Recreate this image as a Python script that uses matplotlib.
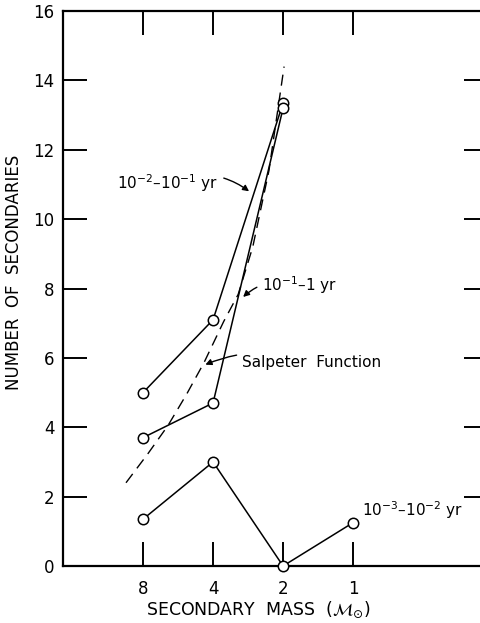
import matplotlib
matplotlib.use("Agg")
import matplotlib.pyplot as plt

# data
mass = [8, 4, 2, 1]
n_short = [1.35, 3.0, 0.0, 1.25]        # 10^-3 - 10^-2 yr
n_mid = [5.0, 7.1, 13.35]               # 10^-2 - 10^-1 yr
n_long = [3.7, 4.7, 13.2]               # 10^-1 - 1 yr
salp_mass = [9.47, 7.6, 6.25, 5.2, 4.37, 3.6, 3.12, 2.7, 2.3, 1.98]
salp_n = [2.40, 3.25, 4.05, 4.95, 5.87, 7.05, 7.83, 9.2, 11.4, 14.4]

plt.rcParams['font.family'] = ['DejaVu Sans']
plt.rcParams['mathtext.fontset'] = 'dejavusans'

fig = plt.figure(figsize=(4.81, 6.23), dpi=100)
ax = fig.add_axes([0.131, 0.0915, 0.884, 0.8907])

ax.set_xscale('log', base=2)
ax.set_xlim(2 ** 4.143, 2 ** -1.93)
ax.set_ylim(0, 16)

mk = dict(marker='o', markersize=7.5, markerfacecolor='white', markeredgecolor='black',
          markeredgewidth=1.1, color='black', linewidth=1.1, clip_on=False, zorder=3)
ax.plot(mass[:3], n_mid, **mk)
ax.plot(mass[:3], n_long, **mk)
ax.plot(mass, n_short, **mk)
ax.plot(salp_mass, salp_n, color='black', linewidth=1.0, dashes=(8, 5), zorder=2)

ax.set_xticks(mass)
ax.set_xticklabels([str(m) for m in mass])
ax.minorticks_off()
ax.set_yticks(range(0, 17, 2))
ax.tick_params(axis='both', direction='in', length=17, width=1.4, labelsize=12,
               top=True, right=True, pad=6)
ax.tick_params(axis='x', pad=10)
for s in ax.spines.values():
    s.set_linewidth(1.6)

ax.set_ylabel('NUMBER  OF  SECONDARIES', fontsize=12)
ax.yaxis.set_label_coords(-0.095, 0.53)
ax.set_xlabel(r'SECONDARY  MASS  ($\mathcal{M}_{\odot}$)', fontsize=12.5)
ax.xaxis.set_label_coords(0.46, -0.06)

arr = dict(arrowstyle='-|>', color='black', linewidth=1.0, mutation_scale=9,
           connectionstyle='arc3,rad=-0.3', shrinkA=2, shrinkB=1)
ax.annotate(r'$10^{-2}$–$10^{-1}$ yr', xy=(2.77, 10.78), xytext=(10.35, 11.04),
            fontsize=11, ha='left', va='center', arrowprops=arr)
ax.annotate(r'$10^{-1}$–1 yr', xy=(3.0, 7.73), xytext=(2.46, 8.1),
            fontsize=11, ha='left', va='center',
            arrowprops=dict(arr, connectionstyle='arc3,rad=0.3'))
ax.annotate('Salpeter  Function', xy=(4.37, 5.79), xytext=(3.0, 5.88),
            fontsize=11, ha='left', va='center',
            arrowprops=dict(arr, connectionstyle='arc3,rad=0.2'))
ax.text(0.915, 1.61, r'$10^{-3}$–$10^{-2}$ yr', fontsize=11, ha='left', va='center')

fig.savefig('out.png', dpi=100)
